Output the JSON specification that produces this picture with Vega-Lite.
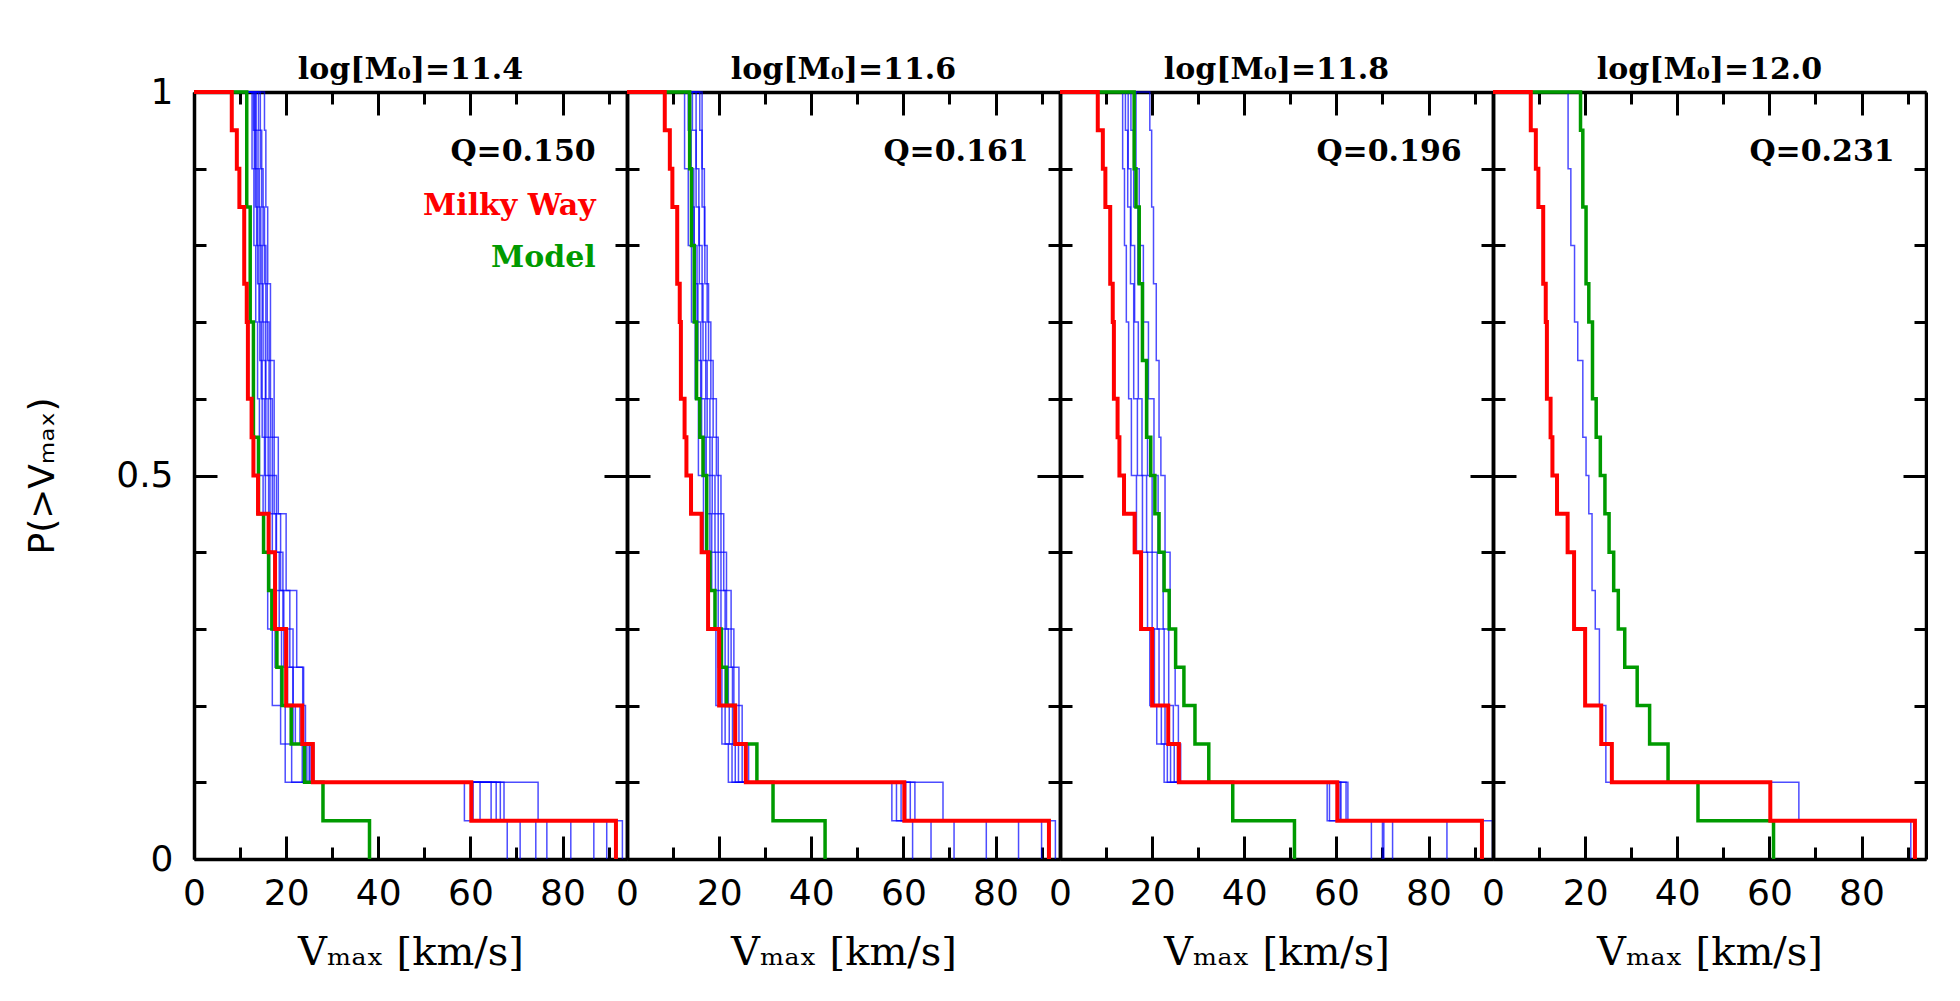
{
"$schema":"https://vega.github.io/schema/vega-lite/v6.json",
"background":"white",
"padding":{"left":24,"top":55,"right":0,"bottom":0},
"bounds":"flush",
"spacing":0,
"config":{
 "view":{"stroke":null},
 "axis":{"domainColor":"black","domainWidth":3.5,"tickColor":"black","tickWidth":3,"labelFont":"DejaVu Sans","labelFontSize":36,"labelColor":"black","titleColor":"black","grid":false,"minExtent":0},
 "axisX":{"titleFont":"DejaVu Serif","titleFontSize":40,"titleFontWeight":"normal"},
 "axisY":{"titleFont":"DejaVu Sans","titleFontSize":36,"titleFontWeight":"normal"},
 "title":{"font":"DejaVu Serif","fontSize":30,"fontWeight":"bold","color":"black","baseline":"alphabetic","offset":-1,"anchor":"middle","frame":"group"}
},
"datasets":{
"notes":[
 {"panel":"11.4","kind":"q","text":"Q=0.150","v":87.2,"p":0.922},
 {"panel":"11.4","kind":"mw","text":"Milky Way","v":87.2,"p":0.852},
 {"panel":"11.4","kind":"model","text":"Model","v":87.2,"p":0.784},
 {"panel":"11.6","kind":"q","text":"Q=0.161","v":87.2,"p":0.922},
 {"panel":"11.8","kind":"q","text":"Q=0.196","v":87.2,"p":0.922},
 {"panel":"12.0","kind":"q","text":"Q=0.231","v":87.2,"p":0.922}
],
"curves":[
{"panel":"all","series":"mw","v":0,"p":1},{"panel":"all","series":"mw","v":8.2,"p":0.95},{"panel":"all","series":"mw","v":9.3,"p":0.9},{"panel":"all","series":"mw","v":9.85,"p":0.85},{"panel":"all","series":"mw","v":10.9,"p":0.75},{"panel":"all","series":"mw","v":11.45,"p":0.7},{"panel":"all","series":"mw","v":11.7,"p":0.6},{"panel":"all","series":"mw","v":12.5,"p":0.55},{"panel":"all","series":"mw","v":12.9,"p":0.5},{"panel":"all","series":"mw","v":13.9,"p":0.45},{"panel":"all","series":"mw","v":16.2,"p":0.4},{"panel":"all","series":"mw","v":17.6,"p":0.3},{"panel":"all","series":"mw","v":20.0,"p":0.2},{"panel":"all","series":"mw","v":23.5,"p":0.15},{"panel":"all","series":"mw","v":25.8,"p":0.1},{"panel":"all","series":"mw","v":60.2,"p":0.05},{"panel":"all","series":"mw","v":91.6,"p":0},

{"panel":"11.4","series":"model","v":0,"p":1},{"panel":"11.4","series":"model","v":11.45,"p":0.85},{"panel":"11.4","series":"model","v":12.2,"p":0.7},{"panel":"11.4","series":"model","v":12.9,"p":0.55},{"panel":"11.4","series":"model","v":14.0,"p":0.45},{"panel":"11.4","series":"model","v":15.1,"p":0.4},{"panel":"11.4","series":"model","v":16.2,"p":0.35},{"panel":"11.4","series":"model","v":16.9,"p":0.3},{"panel":"11.4","series":"model","v":18.0,"p":0.25},{"panel":"11.4","series":"model","v":19.1,"p":0.2},{"panel":"11.4","series":"model","v":21.1,"p":0.15},{"panel":"11.4","series":"model","v":24.0,"p":0.1},{"panel":"11.4","series":"model","v":28.0,"p":0.05},{"panel":"11.4","series":"model","v":38.1,"p":0},

{"panel":"11.4","series":"s1","v":0,"p":1},{"panel":"11.4","series":"s1","v":12.6,"p":0.9},{"panel":"11.4","series":"s1","v":13.0,"p":0.8},{"panel":"11.4","series":"s1","v":13.4,"p":0.7},{"panel":"11.4","series":"s1","v":13.8,"p":0.6},{"panel":"11.4","series":"s1","v":14.2,"p":0.5},{"panel":"11.4","series":"s1","v":15.0,"p":0.4},{"panel":"11.4","series":"s1","v":16.0,"p":0.3},{"panel":"11.4","series":"s1","v":17.0,"p":0.2},{"panel":"11.4","series":"s1","v":19.8,"p":0.1},{"panel":"11.4","series":"s1","v":58.7,"p":0.05},{"panel":"11.4","series":"s1","v":68.0,"p":0},
{"panel":"11.4","series":"s2","v":0,"p":1},{"panel":"11.4","series":"s2","v":12.9,"p":0.95},{"panel":"11.4","series":"s2","v":13.3,"p":0.85},{"panel":"11.4","series":"s2","v":13.8,"p":0.75},{"panel":"11.4","series":"s2","v":14.3,"p":0.65},{"panel":"11.4","series":"s2","v":14.8,"p":0.55},{"panel":"11.4","series":"s2","v":15.5,"p":0.45},{"panel":"11.4","series":"s2","v":16.4,"p":0.35},{"panel":"11.4","series":"s2","v":17.6,"p":0.25},{"panel":"11.4","series":"s2","v":18.8,"p":0.15},{"panel":"11.4","series":"s2","v":21.2,"p":0.1},{"panel":"11.4","series":"s2","v":60.6,"p":0.05},{"panel":"11.4","series":"s2","v":70.8,"p":0},
{"panel":"11.4","series":"s3","v":0,"p":1},{"panel":"11.4","series":"s3","v":13.1,"p":0.9},{"panel":"11.4","series":"s3","v":13.6,"p":0.8},{"panel":"11.4","series":"s3","v":14.1,"p":0.7},{"panel":"11.4","series":"s3","v":14.6,"p":0.6},{"panel":"11.4","series":"s3","v":15.3,"p":0.5},{"panel":"11.4","series":"s3","v":16.2,"p":0.4},{"panel":"11.4","series":"s3","v":17.4,"p":0.3},{"panel":"11.4","series":"s3","v":19.0,"p":0.2},{"panel":"11.4","series":"s3","v":22.0,"p":0.15},{"panel":"11.4","series":"s3","v":23.5,"p":0.1},{"panel":"11.4","series":"s3","v":62.1,"p":0.05},{"panel":"11.4","series":"s3","v":74.2,"p":0},
{"panel":"11.4","series":"s4","v":0,"p":1},{"panel":"11.4","series":"s4","v":13.3,"p":0.95},{"panel":"11.4","series":"s4","v":13.9,"p":0.85},{"panel":"11.4","series":"s4","v":14.5,"p":0.75},{"panel":"11.4","series":"s4","v":15.0,"p":0.65},{"panel":"11.4","series":"s4","v":15.6,"p":0.55},{"panel":"11.4","series":"s4","v":16.5,"p":0.45},{"panel":"11.4","series":"s4","v":17.8,"p":0.35},{"panel":"11.4","series":"s4","v":19.5,"p":0.25},{"panel":"11.4","series":"s4","v":21.5,"p":0.15},{"panel":"11.4","series":"s4","v":24.5,"p":0.1},{"panel":"11.4","series":"s4","v":64.5,"p":0.05},{"panel":"11.4","series":"s4","v":76.6,"p":0},
{"panel":"11.4","series":"s5","v":0,"p":1},{"panel":"11.4","series":"s5","v":13.5,"p":0.9},{"panel":"11.4","series":"s5","v":14.2,"p":0.8},{"panel":"11.4","series":"s5","v":14.8,"p":0.7},{"panel":"11.4","series":"s5","v":15.5,"p":0.6},{"panel":"11.4","series":"s5","v":16.1,"p":0.5},{"panel":"11.4","series":"s5","v":17.0,"p":0.4},{"panel":"11.4","series":"s5","v":18.5,"p":0.3},{"panel":"11.4","series":"s5","v":20.3,"p":0.2},{"panel":"11.4","series":"s5","v":23.0,"p":0.15},{"panel":"11.4","series":"s5","v":25.0,"p":0.1},{"panel":"11.4","series":"s5","v":65.6,"p":0.05},{"panel":"11.4","series":"s5","v":81.8,"p":0},
{"panel":"11.4","series":"s6","v":0,"p":1},{"panel":"11.4","series":"s6","v":14.0,"p":0.95},{"panel":"11.4","series":"s6","v":14.7,"p":0.85},{"panel":"11.4","series":"s6","v":15.3,"p":0.75},{"panel":"11.4","series":"s6","v":15.9,"p":0.65},{"panel":"11.4","series":"s6","v":16.6,"p":0.55},{"panel":"11.4","series":"s6","v":17.4,"p":0.45},{"panel":"11.4","series":"s6","v":18.8,"p":0.35},{"panel":"11.4","series":"s6","v":20.8,"p":0.25},{"panel":"11.4","series":"s6","v":23.6,"p":0.15},{"panel":"11.4","series":"s6","v":25.6,"p":0.1},{"panel":"11.4","series":"s6","v":66.5,"p":0.05},{"panel":"11.4","series":"s6","v":86.8,"p":0},
{"panel":"11.4","series":"s7","v":0,"p":1},{"panel":"11.4","series":"s7","v":14.4,"p":0.9},{"panel":"11.4","series":"s7","v":15.0,"p":0.8},{"panel":"11.4","series":"s7","v":15.6,"p":0.7},{"panel":"11.4","series":"s7","v":16.3,"p":0.6},{"panel":"11.4","series":"s7","v":17.0,"p":0.5},{"panel":"11.4","series":"s7","v":17.9,"p":0.4},{"panel":"11.4","series":"s7","v":19.3,"p":0.3},{"panel":"11.4","series":"s7","v":21.5,"p":0.2},{"panel":"11.4","series":"s7","v":24.2,"p":0.15},{"panel":"11.4","series":"s7","v":26.0,"p":0.1},{"panel":"11.4","series":"s7","v":67.3,"p":0.05},{"panel":"11.4","series":"s7","v":89.6,"p":0},
{"panel":"11.4","series":"s8","v":0,"p":1},{"panel":"11.4","series":"s8","v":15.3,"p":0.95},{"panel":"11.4","series":"s8","v":15.6,"p":0.85},{"panel":"11.4","series":"s8","v":16.0,"p":0.75},{"panel":"11.4","series":"s8","v":16.6,"p":0.65},{"panel":"11.4","series":"s8","v":17.4,"p":0.55},{"panel":"11.4","series":"s8","v":18.3,"p":0.45},{"panel":"11.4","series":"s8","v":20.0,"p":0.35},{"panel":"11.4","series":"s8","v":22.3,"p":0.25},{"panel":"11.4","series":"s8","v":23.8,"p":0.15},{"panel":"11.4","series":"s8","v":25.2,"p":0.1},{"panel":"11.4","series":"s8","v":74.7,"p":0.05},{"panel":"11.4","series":"s8","v":93.0,"p":0},

{"panel":"11.6","series":"model","v":0,"p":1},{"panel":"11.6","series":"model","v":13.6,"p":0.9},{"panel":"11.6","series":"model","v":14.0,"p":0.8},{"panel":"11.6","series":"model","v":14.6,"p":0.7},{"panel":"11.6","series":"model","v":15.1,"p":0.6},{"panel":"11.6","series":"model","v":15.8,"p":0.55},{"panel":"11.6","series":"model","v":16.5,"p":0.5},{"panel":"11.6","series":"model","v":17.3,"p":0.4},{"panel":"11.6","series":"model","v":18.0,"p":0.35},{"panel":"11.6","series":"model","v":19.1,"p":0.3},{"panel":"11.6","series":"model","v":20.5,"p":0.25},{"panel":"11.6","series":"model","v":21.6,"p":0.2},{"panel":"11.6","series":"model","v":23.5,"p":0.15},{"panel":"11.6","series":"model","v":28.2,"p":0.1},{"panel":"11.6","series":"model","v":31.7,"p":0.05},{"panel":"11.6","series":"model","v":43.0,"p":0},

{"panel":"11.6","series":"c1","v":0,"p":1},{"panel":"11.6","series":"c1","v":12.5,"p":0.9},{"panel":"11.6","series":"c1","v":13.3,"p":0.8},{"panel":"11.6","series":"c1","v":14.0,"p":0.7},{"panel":"11.6","series":"c1","v":14.8,"p":0.6},{"panel":"11.6","series":"c1","v":15.5,"p":0.5},{"panel":"11.6","series":"c1","v":16.6,"p":0.4},{"panel":"11.6","series":"c1","v":17.8,"p":0.3},{"panel":"11.6","series":"c1","v":19.3,"p":0.2},{"panel":"11.6","series":"c1","v":20.6,"p":0.15},{"panel":"11.6","series":"c1","v":22.0,"p":0.1},{"panel":"11.6","series":"c1","v":57.5,"p":0.05},{"panel":"11.6","series":"c1","v":62.0,"p":0},
{"panel":"11.6","series":"c2","v":0,"p":1},{"panel":"11.6","series":"c2","v":13.3,"p":0.95},{"panel":"11.6","series":"c2","v":13.9,"p":0.85},{"panel":"11.6","series":"c2","v":14.6,"p":0.75},{"panel":"11.6","series":"c2","v":15.4,"p":0.65},{"panel":"11.6","series":"c2","v":16.2,"p":0.55},{"panel":"11.6","series":"c2","v":17.2,"p":0.45},{"panel":"11.6","series":"c2","v":18.4,"p":0.35},{"panel":"11.6","series":"c2","v":19.8,"p":0.25},{"panel":"11.6","series":"c2","v":21.3,"p":0.15},{"panel":"11.6","series":"c2","v":22.8,"p":0.1},{"panel":"11.6","series":"c2","v":58.5,"p":0.05},{"panel":"11.6","series":"c2","v":66.0,"p":0},
{"panel":"11.6","series":"c3","v":0,"p":1},{"panel":"11.6","series":"c3","v":13.8,"p":0.9},{"panel":"11.6","series":"c3","v":14.5,"p":0.8},{"panel":"11.6","series":"c3","v":15.2,"p":0.7},{"panel":"11.6","series":"c3","v":16.0,"p":0.6},{"panel":"11.6","series":"c3","v":16.9,"p":0.5},{"panel":"11.6","series":"c3","v":18.0,"p":0.4},{"panel":"11.6","series":"c3","v":19.2,"p":0.3},{"panel":"11.6","series":"c3","v":20.6,"p":0.2},{"panel":"11.6","series":"c3","v":22.2,"p":0.15},{"panel":"11.6","series":"c3","v":23.5,"p":0.1},{"panel":"11.6","series":"c3","v":59.5,"p":0.05},{"panel":"11.6","series":"c3","v":71.0,"p":0},
{"panel":"11.6","series":"c4","v":0,"p":1},{"panel":"11.6","series":"c4","v":14.2,"p":0.95},{"panel":"11.6","series":"c4","v":15.0,"p":0.85},{"panel":"11.6","series":"c4","v":15.7,"p":0.75},{"panel":"11.6","series":"c4","v":16.5,"p":0.65},{"panel":"11.6","series":"c4","v":17.4,"p":0.55},{"panel":"11.6","series":"c4","v":18.5,"p":0.45},{"panel":"11.6","series":"c4","v":19.8,"p":0.35},{"panel":"11.6","series":"c4","v":21.3,"p":0.25},{"panel":"11.6","series":"c4","v":22.9,"p":0.15},{"panel":"11.6","series":"c4","v":24.2,"p":0.1},{"panel":"11.6","series":"c4","v":60.5,"p":0.05},{"panel":"11.6","series":"c4","v":78.0,"p":0},
{"panel":"11.6","series":"c5","v":0,"p":1},{"panel":"11.6","series":"c5","v":15.0,"p":0.9},{"panel":"11.6","series":"c5","v":15.6,"p":0.8},{"panel":"11.6","series":"c5","v":16.3,"p":0.7},{"panel":"11.6","series":"c5","v":17.1,"p":0.6},{"panel":"11.6","series":"c5","v":18.0,"p":0.5},{"panel":"11.6","series":"c5","v":19.1,"p":0.4},{"panel":"11.6","series":"c5","v":20.4,"p":0.3},{"panel":"11.6","series":"c5","v":22.0,"p":0.2},{"panel":"11.6","series":"c5","v":23.6,"p":0.15},{"panel":"11.6","series":"c5","v":25.0,"p":0.1},{"panel":"11.6","series":"c5","v":61.5,"p":0.05},{"panel":"11.6","series":"c5","v":85.0,"p":0},
{"panel":"11.6","series":"c6","v":0,"p":1},{"panel":"11.6","series":"c6","v":15.8,"p":0.95},{"panel":"11.6","series":"c6","v":16.3,"p":0.85},{"panel":"11.6","series":"c6","v":16.9,"p":0.75},{"panel":"11.6","series":"c6","v":17.7,"p":0.65},{"panel":"11.6","series":"c6","v":18.7,"p":0.55},{"panel":"11.6","series":"c6","v":19.8,"p":0.45},{"panel":"11.6","series":"c6","v":21.0,"p":0.35},{"panel":"11.6","series":"c6","v":22.6,"p":0.25},{"panel":"11.6","series":"c6","v":24.3,"p":0.15},{"panel":"11.6","series":"c6","v":25.8,"p":0.1},{"panel":"11.6","series":"c6","v":62.5,"p":0.05},{"panel":"11.6","series":"c6","v":90.0,"p":0},
{"panel":"11.6","series":"c7","v":0,"p":1},{"panel":"11.6","series":"c7","v":16.3,"p":0.9},{"panel":"11.6","series":"c7","v":16.8,"p":0.8},{"panel":"11.6","series":"c7","v":17.4,"p":0.7},{"panel":"11.6","series":"c7","v":18.2,"p":0.6},{"panel":"11.6","series":"c7","v":19.4,"p":0.5},{"panel":"11.6","series":"c7","v":20.4,"p":0.4},{"panel":"11.6","series":"c7","v":21.6,"p":0.3},{"panel":"11.6","series":"c7","v":23.2,"p":0.2},{"panel":"11.6","series":"c7","v":25.0,"p":0.15},{"panel":"11.6","series":"c7","v":26.4,"p":0.1},{"panel":"11.6","series":"c7","v":68.6,"p":0.05},{"panel":"11.6","series":"c7","v":93.0,"p":0},

{"panel":"11.8","series":"model","v":0,"p":1},{"panel":"11.8","series":"model","v":16.1,"p":0.9},{"panel":"11.8","series":"model","v":16.5,"p":0.85},{"panel":"11.8","series":"model","v":17.2,"p":0.75},{"panel":"11.8","series":"model","v":17.9,"p":0.65},{"panel":"11.8","series":"model","v":18.8,"p":0.55},{"panel":"11.8","series":"model","v":19.7,"p":0.5},{"panel":"11.8","series":"model","v":20.6,"p":0.45},{"panel":"11.8","series":"model","v":21.5,"p":0.4},{"panel":"11.8","series":"model","v":22.6,"p":0.35},{"panel":"11.8","series":"model","v":23.7,"p":0.3},{"panel":"11.8","series":"model","v":25.1,"p":0.25},{"panel":"11.8","series":"model","v":26.9,"p":0.2},{"panel":"11.8","series":"model","v":29.3,"p":0.15},{"panel":"11.8","series":"model","v":32.3,"p":0.1},{"panel":"11.8","series":"model","v":37.5,"p":0.05},{"panel":"11.8","series":"model","v":50.9,"p":0},

{"panel":"11.8","series":"d1","v":0,"p":1},{"panel":"11.8","series":"d1","v":13.6,"p":0.9},{"panel":"11.8","series":"d1","v":14.0,"p":0.8},{"panel":"11.8","series":"d1","v":14.4,"p":0.7},{"panel":"11.8","series":"d1","v":14.9,"p":0.6},{"panel":"11.8","series":"d1","v":15.5,"p":0.5},{"panel":"11.8","series":"d1","v":16.6,"p":0.4},{"panel":"11.8","series":"d1","v":17.8,"p":0.3},{"panel":"11.8","series":"d1","v":19.5,"p":0.2},{"panel":"11.8","series":"d1","v":21.0,"p":0.15},{"panel":"11.8","series":"d1","v":22.6,"p":0.1},{"panel":"11.8","series":"d1","v":58.0,"p":0.05},{"panel":"11.8","series":"d1","v":67.6,"p":0},
{"panel":"11.8","series":"d2","v":0,"p":1},{"panel":"11.8","series":"d2","v":14.2,"p":0.95},{"panel":"11.8","series":"d2","v":14.7,"p":0.85},{"panel":"11.8","series":"d2","v":15.3,"p":0.75},{"panel":"11.8","series":"d2","v":16.0,"p":0.6},{"panel":"11.8","series":"d2","v":16.8,"p":0.5},{"panel":"11.8","series":"d2","v":17.9,"p":0.4},{"panel":"11.8","series":"d2","v":19.0,"p":0.3},{"panel":"11.8","series":"d2","v":20.5,"p":0.2},{"panel":"11.8","series":"d2","v":22.0,"p":0.15},{"panel":"11.8","series":"d2","v":23.3,"p":0.1},{"panel":"11.8","series":"d2","v":58.5,"p":0.05},{"panel":"11.8","series":"d2","v":70.3,"p":0},
{"panel":"11.8","series":"d3","v":0,"p":1},{"panel":"11.8","series":"d3","v":14.8,"p":0.9},{"panel":"11.8","series":"d3","v":15.4,"p":0.8},{"panel":"11.8","series":"d3","v":16.2,"p":0.7},{"panel":"11.8","series":"d3","v":17.0,"p":0.6},{"panel":"11.8","series":"d3","v":17.8,"p":0.5},{"panel":"11.8","series":"d3","v":18.8,"p":0.4},{"panel":"11.8","series":"d3","v":20.0,"p":0.3},{"panel":"11.8","series":"d3","v":21.5,"p":0.2},{"panel":"11.8","series":"d3","v":22.8,"p":0.15},{"panel":"11.8","series":"d3","v":24.0,"p":0.1},{"panel":"11.8","series":"d3","v":60.8,"p":0.05},{"panel":"11.8","series":"d3","v":72.2,"p":0},
{"panel":"11.8","series":"d4","v":0,"p":1},{"panel":"11.8","series":"d4","v":15.4,"p":0.95},{"panel":"11.8","series":"d4","v":16.0,"p":0.85},{"panel":"11.8","series":"d4","v":16.9,"p":0.75},{"panel":"11.8","series":"d4","v":17.8,"p":0.65},{"panel":"11.8","series":"d4","v":19.0,"p":0.5},{"panel":"11.8","series":"d4","v":20.0,"p":0.4},{"panel":"11.8","series":"d4","v":21.1,"p":0.3},{"panel":"11.8","series":"d4","v":22.6,"p":0.2},{"panel":"11.8","series":"d4","v":23.7,"p":0.15},{"panel":"11.8","series":"d4","v":24.8,"p":0.1},{"panel":"11.8","series":"d4","v":61.0,"p":0.05},{"panel":"11.8","series":"d4","v":84.0,"p":0},
{"panel":"11.8","series":"d5","v":0,"p":1},{"panel":"11.8","series":"d5","v":16.5,"p":0.9},{"panel":"11.8","series":"d5","v":17.2,"p":0.8},{"panel":"11.8","series":"d5","v":18.1,"p":0.7},{"panel":"11.8","series":"d5","v":19.2,"p":0.6},{"panel":"11.8","series":"d5","v":20.4,"p":0.5},{"panel":"11.8","series":"d5","v":21.3,"p":0.4},{"panel":"11.8","series":"d5","v":22.4,"p":0.3},{"panel":"11.8","series":"d5","v":23.6,"p":0.2},{"panel":"11.8","series":"d5","v":24.6,"p":0.15},{"panel":"11.8","series":"d5","v":25.5,"p":0.1},{"panel":"11.8","series":"d5","v":62.1,"p":0.05},{"panel":"11.8","series":"d5","v":93.9,"p":0},
{"panel":"11.8","series":"d6","v":0,"p":1},{"panel":"11.8","series":"d6","v":19.5,"p":0.95},{"panel":"11.8","series":"d6","v":19.9,"p":0.85},{"panel":"11.8","series":"d6","v":20.3,"p":0.75},{"panel":"11.8","series":"d6","v":20.9,"p":0.65},{"panel":"11.8","series":"d6","v":21.5,"p":0.55},{"panel":"11.8","series":"d6","v":21.9,"p":0.5},{"panel":"11.8","series":"d6","v":22.8,"p":0.4},{"panel":"11.8","series":"d6","v":23.9,"p":0.3},{"panel":"11.8","series":"d6","v":25.0,"p":0.2},{"panel":"11.8","series":"d6","v":25.7,"p":0.15},{"panel":"11.8","series":"d6","v":26.2,"p":0.1},{"panel":"11.8","series":"d6","v":62.5,"p":0.05},{"panel":"11.8","series":"d6","v":70.0,"p":0},

{"panel":"12.0","series":"model","v":0,"p":1},{"panel":"12.0","series":"model","v":19.0,"p":0.95},{"panel":"12.0","series":"model","v":19.5,"p":0.85},{"panel":"12.0","series":"model","v":20.2,"p":0.75},{"panel":"12.0","series":"model","v":20.8,"p":0.7},{"panel":"12.0","series":"model","v":21.6,"p":0.6},{"panel":"12.0","series":"model","v":22.4,"p":0.55},{"panel":"12.0","series":"model","v":23.3,"p":0.5},{"panel":"12.0","series":"model","v":24.3,"p":0.45},{"panel":"12.0","series":"model","v":25.2,"p":0.4},{"panel":"12.0","series":"model","v":26.2,"p":0.35},{"panel":"12.0","series":"model","v":27.2,"p":0.3},{"panel":"12.0","series":"model","v":28.6,"p":0.25},{"panel":"12.0","series":"model","v":31.3,"p":0.2},{"panel":"12.0","series":"model","v":34.0,"p":0.15},{"panel":"12.0","series":"model","v":38.0,"p":0.1},{"panel":"12.0","series":"model","v":44.5,"p":0.05},{"panel":"12.0","series":"model","v":60.9,"p":0},

{"panel":"12.0","series":"e1","v":0,"p":1},{"panel":"12.0","series":"e1","v":16.3,"p":0.9},{"panel":"12.0","series":"e1","v":16.9,"p":0.8},{"panel":"12.0","series":"e1","v":17.7,"p":0.7},{"panel":"12.0","series":"e1","v":18.4,"p":0.65},{"panel":"12.0","series":"e1","v":19.5,"p":0.55},{"panel":"12.0","series":"e1","v":20.2,"p":0.5},{"panel":"12.0","series":"e1","v":20.8,"p":0.45},{"panel":"12.0","series":"e1","v":21.5,"p":0.35},{"panel":"12.0","series":"e1","v":22.2,"p":0.3},{"panel":"12.0","series":"e1","v":23.1,"p":0.2},{"panel":"12.0","series":"e1","v":24.5,"p":0.1},{"panel":"12.0","series":"e1","v":66.4,"p":0.05},{"panel":"12.0","series":"e1","v":90.7,"p":0}
]
},
"hconcat":[
{
 "width":433,"height":767,"title":{"text":"log[M₀]=11.4","offset":-11},
 "resolve":{"axis":{"x":"independent","y":"independent"}},
 "layer":[
  {"data":{"name":"curves"},"transform":[{"filter":"datum.panel === '11.4' && datum.series !== 'model'"}],
   "mark":{"type":"line","interpolate":"step-after","stroke":"#0000ff","strokeWidth":1.5,"opacity":0.7},
   "encoding":{
    "x":{"field":"v","type":"quantitative","scale":{"domain":[0,94],"nice":false,"zero":false},"axis":{"orient":"bottom","values":[0,10,20,30,40,50,60,70,80,90],"labelExpr":"datum.value % 20 === 0 ? datum.label : ''","tickSize":{"condition":{"test":"datum.value % 20 === 0","value":-23},"value":-12},"labelPadding":40,"labelFlush":false,"labelOverlap":false,"title":"Vₘₐₓ [km/s]","titlePadding":10}},
    "y":{"field":"p","type":"quantitative","scale":{"domain":[0,1],"nice":false,"zero":false},"axis":{"orient":"left","values":[0,0.1,0.2,0.3,0.4,0.5,0.6,0.7,0.8,0.9,1],"labelExpr":"datum.value === 0 ? '0' : datum.value === 0.5 ? '0.5' : datum.value === 1 ? '1' : ''","tickSize":{"condition":{"test":"datum.value === 0 || datum.value === 0.5 || datum.value === 1","value":-23},"value":-12},"labelPadding":44,"labelOverlap":false,"title":"P(>Vₘₐₓ)","titlePadding":54}},
    "detail":{"field":"series"}}},
  {"data":{"name":"curves"},"transform":[{"filter":"datum.panel === '11.4' && datum.series === 'model'"}],
   "mark":{"type":"line","interpolate":"step-after","stroke":"#009a00","strokeWidth":3.5},
   "encoding":{
    "x":{"field":"v","type":"quantitative","scale":{"domain":[0,94],"nice":false,"zero":false},"axis":{"orient":"top","values":[0,10,20,30,40,50,60,70,80,90],"labels":false,"title":null,"tickSize":{"condition":{"test":"datum.value % 20 === 0","value":-23},"value":-12}}},
    "y":{"field":"p","type":"quantitative","scale":{"domain":[0,1],"nice":false,"zero":false},"axis":{"orient":"right","values":[0,0.1,0.2,0.3,0.4,0.5,0.6,0.7,0.8,0.9,1],"labels":false,"title":null,"tickSize":{"condition":{"test":"datum.value === 0 || datum.value === 0.5 || datum.value === 1","value":-23},"value":-12}}}}},
  {"data":{"name":"curves"},"transform":[{"filter":"datum.series === 'mw'"}],
   "mark":{"type":"line","interpolate":"step-after","stroke":"#ff0000","strokeWidth":4},
   "encoding":{"x":{"field":"v","type":"quantitative","axis":null},"y":{"field":"p","type":"quantitative","axis":null}}},
  {"data":{"name":"notes"},"transform":[{"filter":"datum.panel === '11.4'"}],
   "mark":{"type":"text","font":"DejaVu Serif","fontWeight":"bold","fontSize":30,"align":"right","baseline":"middle"},
   "encoding":{"x":{"field":"v","type":"quantitative","axis":null},"y":{"field":"p","type":"quantitative","axis":null},"text":{"field":"text"},
    "color":{"field":"kind","type":"nominal","scale":{"domain":["q","mw","model"],"range":["#000000","#ff0000","#009a00"]},"legend":null}}}
 ]
},
{
 "width":433,"height":767,"title":"log[M₀]=11.6",
 "resolve":{"axis":{"x":"independent","y":"independent"}},
 "layer":[
  {"data":{"name":"curves"},"transform":[{"filter":"datum.panel === '11.6' && datum.series !== 'model'"}],
   "mark":{"type":"line","interpolate":"step-after","stroke":"#0000ff","strokeWidth":1.5,"opacity":0.7},
   "encoding":{
    "x":{"field":"v","type":"quantitative","scale":{"domain":[0,94],"nice":false,"zero":false},"axis":{"orient":"bottom","values":[0,10,20,30,40,50,60,70,80,90],"labelExpr":"datum.value % 20 === 0 ? datum.label : ''","tickSize":{"condition":{"test":"datum.value % 20 === 0","value":-23},"value":-12},"labelPadding":40,"labelFlush":false,"labelOverlap":false,"title":"Vₘₐₓ [km/s]","titlePadding":10}},
    "y":{"field":"p","type":"quantitative","scale":{"domain":[0,1],"nice":false,"zero":false},"axis":{"orient":"left","values":[0,0.1,0.2,0.3,0.4,0.5,0.6,0.7,0.8,0.9,1],"labels":false,"title":null,"tickSize":{"condition":{"test":"datum.value === 0 || datum.value === 0.5 || datum.value === 1","value":-23},"value":-12}}},
    "detail":{"field":"series"}}},
  {"data":{"name":"curves"},"transform":[{"filter":"datum.panel === '11.6' && datum.series === 'model'"}],
   "mark":{"type":"line","interpolate":"step-after","stroke":"#009a00","strokeWidth":3.5},
   "encoding":{
    "x":{"field":"v","type":"quantitative","scale":{"domain":[0,94],"nice":false,"zero":false},"axis":{"orient":"top","values":[0,10,20,30,40,50,60,70,80,90],"labels":false,"title":null,"tickSize":{"condition":{"test":"datum.value % 20 === 0","value":-23},"value":-12}}},
    "y":{"field":"p","type":"quantitative","scale":{"domain":[0,1],"nice":false,"zero":false},"axis":{"orient":"right","values":[0,0.1,0.2,0.3,0.4,0.5,0.6,0.7,0.8,0.9,1],"labels":false,"title":null,"tickSize":{"condition":{"test":"datum.value === 0 || datum.value === 0.5 || datum.value === 1","value":-23},"value":-12}}}}},
  {"data":{"name":"curves"},"transform":[{"filter":"datum.series === 'mw'"}],
   "mark":{"type":"line","interpolate":"step-after","stroke":"#ff0000","strokeWidth":4},
   "encoding":{"x":{"field":"v","type":"quantitative","axis":null},"y":{"field":"p","type":"quantitative","axis":null}}},
  {"data":{"name":"notes"},"transform":[{"filter":"datum.panel === '11.6'"}],
   "mark":{"type":"text","font":"DejaVu Serif","fontWeight":"bold","fontSize":30,"align":"right","baseline":"middle"},
   "encoding":{"x":{"field":"v","type":"quantitative","axis":null},"y":{"field":"p","type":"quantitative","axis":null},"text":{"field":"text"},
    "color":{"field":"kind","type":"nominal","scale":{"domain":["q","mw","model"],"range":["#000000","#ff0000","#009a00"]},"legend":null}}}
 ]
},
{
 "width":433,"height":767,"title":"log[M₀]=11.8",
 "resolve":{"axis":{"x":"independent","y":"independent"}},
 "layer":[
  {"data":{"name":"curves"},"transform":[{"filter":"datum.panel === '11.8' && datum.series !== 'model'"}],
   "mark":{"type":"line","interpolate":"step-after","stroke":"#0000ff","strokeWidth":1.5,"opacity":0.7},
   "encoding":{
    "x":{"field":"v","type":"quantitative","scale":{"domain":[0,94],"nice":false,"zero":false},"axis":{"orient":"bottom","values":[0,10,20,30,40,50,60,70,80,90],"labelExpr":"datum.value % 20 === 0 ? datum.label : ''","tickSize":{"condition":{"test":"datum.value % 20 === 0","value":-23},"value":-12},"labelPadding":40,"labelFlush":false,"labelOverlap":false,"title":"Vₘₐₓ [km/s]","titlePadding":10}},
    "y":{"field":"p","type":"quantitative","scale":{"domain":[0,1],"nice":false,"zero":false},"axis":{"orient":"left","values":[0,0.1,0.2,0.3,0.4,0.5,0.6,0.7,0.8,0.9,1],"labels":false,"title":null,"tickSize":{"condition":{"test":"datum.value === 0 || datum.value === 0.5 || datum.value === 1","value":-23},"value":-12}}},
    "detail":{"field":"series"}}},
  {"data":{"name":"curves"},"transform":[{"filter":"datum.panel === '11.8' && datum.series === 'model'"}],
   "mark":{"type":"line","interpolate":"step-after","stroke":"#009a00","strokeWidth":3.5},
   "encoding":{
    "x":{"field":"v","type":"quantitative","scale":{"domain":[0,94],"nice":false,"zero":false},"axis":{"orient":"top","values":[0,10,20,30,40,50,60,70,80,90],"labels":false,"title":null,"tickSize":{"condition":{"test":"datum.value % 20 === 0","value":-23},"value":-12}}},
    "y":{"field":"p","type":"quantitative","scale":{"domain":[0,1],"nice":false,"zero":false},"axis":{"orient":"right","values":[0,0.1,0.2,0.3,0.4,0.5,0.6,0.7,0.8,0.9,1],"labels":false,"title":null,"tickSize":{"condition":{"test":"datum.value === 0 || datum.value === 0.5 || datum.value === 1","value":-23},"value":-12}}}}},
  {"data":{"name":"curves"},"transform":[{"filter":"datum.series === 'mw'"}],
   "mark":{"type":"line","interpolate":"step-after","stroke":"#ff0000","strokeWidth":4},
   "encoding":{"x":{"field":"v","type":"quantitative","axis":null},"y":{"field":"p","type":"quantitative","axis":null}}},
  {"data":{"name":"notes"},"transform":[{"filter":"datum.panel === '11.8'"}],
   "mark":{"type":"text","font":"DejaVu Serif","fontWeight":"bold","fontSize":30,"align":"right","baseline":"middle"},
   "encoding":{"x":{"field":"v","type":"quantitative","axis":null},"y":{"field":"p","type":"quantitative","axis":null},"text":{"field":"text"},
    "color":{"field":"kind","type":"nominal","scale":{"domain":["q","mw","model"],"range":["#000000","#ff0000","#009a00"]},"legend":null}}}
 ]
},
{
 "width":433,"height":767,"title":"log[M₀]=12.0",
 "resolve":{"axis":{"x":"independent","y":"independent"}},
 "layer":[
  {"data":{"name":"curves"},"transform":[{"filter":"datum.panel === '12.0' && datum.series !== 'model'"}],
   "mark":{"type":"line","interpolate":"step-after","stroke":"#0000ff","strokeWidth":1.5,"opacity":0.7},
   "encoding":{
    "x":{"field":"v","type":"quantitative","scale":{"domain":[0,94],"nice":false,"zero":false},"axis":{"orient":"bottom","values":[0,10,20,30,40,50,60,70,80,90],"labelExpr":"datum.value % 20 === 0 ? datum.label : ''","tickSize":{"condition":{"test":"datum.value % 20 === 0","value":-23},"value":-12},"labelPadding":40,"labelFlush":false,"labelOverlap":false,"title":"Vₘₐₓ [km/s]","titlePadding":10}},
    "y":{"field":"p","type":"quantitative","scale":{"domain":[0,1],"nice":false,"zero":false},"axis":{"orient":"left","values":[0,0.1,0.2,0.3,0.4,0.5,0.6,0.7,0.8,0.9,1],"labels":false,"title":null,"tickSize":{"condition":{"test":"datum.value === 0 || datum.value === 0.5 || datum.value === 1","value":-23},"value":-12}}},
    "detail":{"field":"series"}}},
  {"data":{"name":"curves"},"transform":[{"filter":"datum.panel === '12.0' && datum.series === 'model'"}],
   "mark":{"type":"line","interpolate":"step-after","stroke":"#009a00","strokeWidth":3.5},
   "encoding":{
    "x":{"field":"v","type":"quantitative","scale":{"domain":[0,94],"nice":false,"zero":false},"axis":{"orient":"top","values":[0,10,20,30,40,50,60,70,80,90],"labels":false,"title":null,"tickSize":{"condition":{"test":"datum.value % 20 === 0","value":-23},"value":-12}}},
    "y":{"field":"p","type":"quantitative","scale":{"domain":[0,1],"nice":false,"zero":false},"axis":{"orient":"right","values":[0,0.1,0.2,0.3,0.4,0.5,0.6,0.7,0.8,0.9,1],"labels":false,"title":null,"tickSize":{"condition":{"test":"datum.value === 0 || datum.value === 0.5 || datum.value === 1","value":-23},"value":-12}}}}},
  {"data":{"name":"curves"},"transform":[{"filter":"datum.series === 'mw'"}],
   "mark":{"type":"line","interpolate":"step-after","stroke":"#ff0000","strokeWidth":4},
   "encoding":{"x":{"field":"v","type":"quantitative","axis":null},"y":{"field":"p","type":"quantitative","axis":null}}},
  {"data":{"name":"notes"},"transform":[{"filter":"datum.panel === '12.0'"}],
   "mark":{"type":"text","font":"DejaVu Serif","fontWeight":"bold","fontSize":30,"align":"right","baseline":"middle"},
   "encoding":{"x":{"field":"v","type":"quantitative","axis":null},"y":{"field":"p","type":"quantitative","axis":null},"text":{"field":"text"},
    "color":{"field":"kind","type":"nominal","scale":{"domain":["q","mw","model"],"range":["#000000","#ff0000","#009a00"]},"legend":null}}}
 ]
}
]
}
